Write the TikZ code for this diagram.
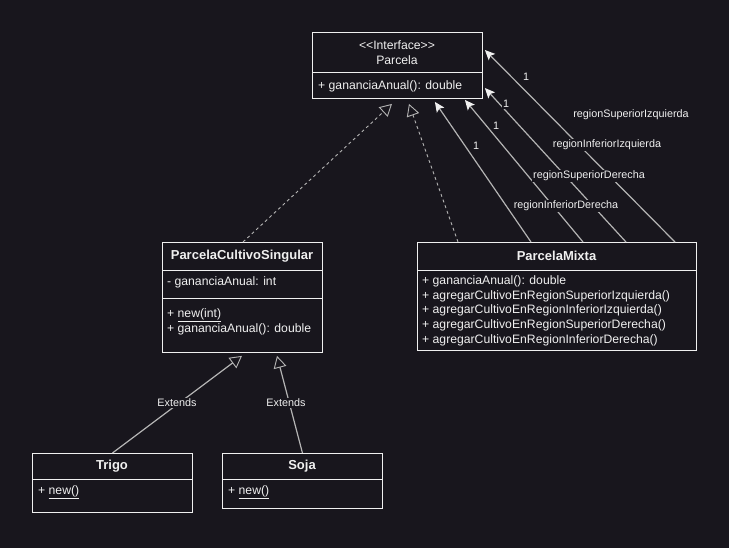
\documentclass[tikz,border=0pt]{standalone}
\usepackage{fontspec}
\setmainfont{Liberation Sans}
\usetikzlibrary{arrows.meta}
\definecolor{bg}{HTML}{18161D}
\definecolor{edge}{HTML}{B4B4B4}
\definecolor{fg}{HTML}{F0F0F0}
\begin{document}
\begin{tikzpicture}[x=1pt,y=-1pt,
  box/.style={draw=fg, line width=0.9pt, inner sep=0pt, anchor=north west},
  txt/.style={text=fg, font=\fontsize{12.2}{14}\selectfont, inner sep=0pt},
  ttl/.style={text=fg, font=\fontsize{13}{15}\selectfont\bfseries, inner sep=0pt},
  mem/.style={txt, anchor=west},
  lbl/.style={text=fg, font=\fontsize{10.8}{12}\selectfont, fill=bg, inner sep=1pt},
  real/.style={draw=edge, line width=0.9pt, dashed, dash pattern=on 3pt off 3pt, -{Triangle[open, length=12pt, width=13pt, line width=0.9pt]}},
  gen/.style={draw=edge, line width=1.2pt, -{Triangle[open, length=12pt, width=13pt, line width=0.9pt]}},
  assoc/.style={draw=edge, line width=1.2pt, -{Stealth[length=10pt, width=9pt, inset=2pt, fill=fg, color=fg]}},
  divider/.style={draw=fg, line width=0.9pt}
]
\fill[bg] (0,0) rectangle (729,548);
\useasboundingbox (0,0) rectangle (729,548);

% Parcela
\node[box, minimum width=170pt, minimum height=66pt] (parcela) at (312,32) {};
\draw[divider] (312,72) -- (482,72);
\node[txt] (parStereo) at (397,45) {<{}<Interface>{}>};
\node[txt] (parName) at (397,60) {Parcela};
\node[mem] (parM1) at (318,86) {+ gananciaAnual(): double};

% ParcelaCultivoSingular
\node[box, minimum width=160pt, minimum height=110pt] (pcs) at (162,242) {};
\draw[divider] (162,270) -- (322,270);
\draw[divider] (162,298) -- (322,298);
\node[ttl] (pcsName) at (242,256) {ParcelaCultivoSingular};
\node[mem] (pcsA1) at (167,282) {- gananciaAnual: int};
\node[mem] (pcsM1) at (167,315) {+ \underline{new(int)}};
\node[mem] (pcsM2) at (167,329) {+ gananciaAnual(): double};

% ParcelaMixta
\node[box, minimum width=279pt, minimum height=108pt] (mixta) at (417,242) {};
\draw[divider] (417,270) -- (696,270);
\node[ttl] (mixName) at (556.5,256) {ParcelaMixta};
\node[mem] (mixM1) at (422,281) {+ gananciaAnual(): double};
\node[mem] (mixM2) at (422,296) {+ agregarCultivoEnRegionSuperiorIzquierda()};
\node[mem] (mixM3) at (422,310) {+ agregarCultivoEnRegionInferiorIzquierda()};
\node[mem] (mixM4) at (422,325) {+ agregarCultivoEnRegionSuperiorDerecha()};
\node[mem] (mixM5) at (422,340) {+ agregarCultivoEnRegionInferiorDerecha()};

% Trigo
\node[box, minimum width=160pt, minimum height=59pt] (trigo) at (32,453) {};
\draw[divider] (32,479) -- (192,479);
\node[ttl] (triName) at (112,466) {Trigo};
\node[mem] (triM1) at (38,492) {+ \underline{new()}};

% Soja
\node[box, minimum width=160pt, minimum height=55pt] (soja) at (222,453) {};
\draw[divider] (222,479) -- (382,479);
\node[ttl] (sojName) at (302,466) {Soja};
\node[mem] (sojM1) at (228,492) {+ \underline{new()}};

% realizations
\draw[real] ([xshift=81pt]pcs.north west) -- ([xshift=80pt,yshift=-5pt]parcela.south west);
\draw[real] ([xshift=41pt]mixta.north west) -- ([xshift=97pt,yshift=-5pt]parcela.south west);

% associations
\draw[assoc] ([xshift=258pt]mixta.north west) -- ([xshift=2pt,yshift=-18pt]parcela.north east);
\draw[assoc] ([xshift=209pt]mixta.north west) -- ([xshift=2pt,yshift=-56pt]parcela.north east);
\draw[assoc] ([xshift=166pt]mixta.north west) -- ([xshift=-18pt,yshift=-1pt]parcela.south east);
\draw[assoc] ([xshift=114pt]mixta.north west) -- ([xshift=-48pt,yshift=-3pt]parcela.south east);

\node[lbl] (m1) at (526,77) {1};
\node[lbl] (m2) at (506,104) {1};
\node[lbl] (m3) at (496,126) {1};
\node[lbl] (m4) at (476,146) {1};
\node[lbl] (r1) at (631,115) {regionSuperiorIzquierda};
\node[lbl] (r2) at (607,145) {regionInferiorIzquierda};
\node[lbl] (r3) at (589,176) {regionSuperiorDerecha};
\node[lbl] (r4) at (566,206) {regionInferiorDerecha};

% generalizations
\draw[gen] (trigo.north) -- ([xshift=80pt,yshift=-3pt]pcs.south west);
\draw[gen] (soja.north) -- ([xshift=115pt,yshift=-3pt]pcs.south west);
\node[lbl] (e1) at (177,403) {Extends};
\node[lbl] (e2) at (286,403) {Extends};
\end{tikzpicture}
\end{document}
